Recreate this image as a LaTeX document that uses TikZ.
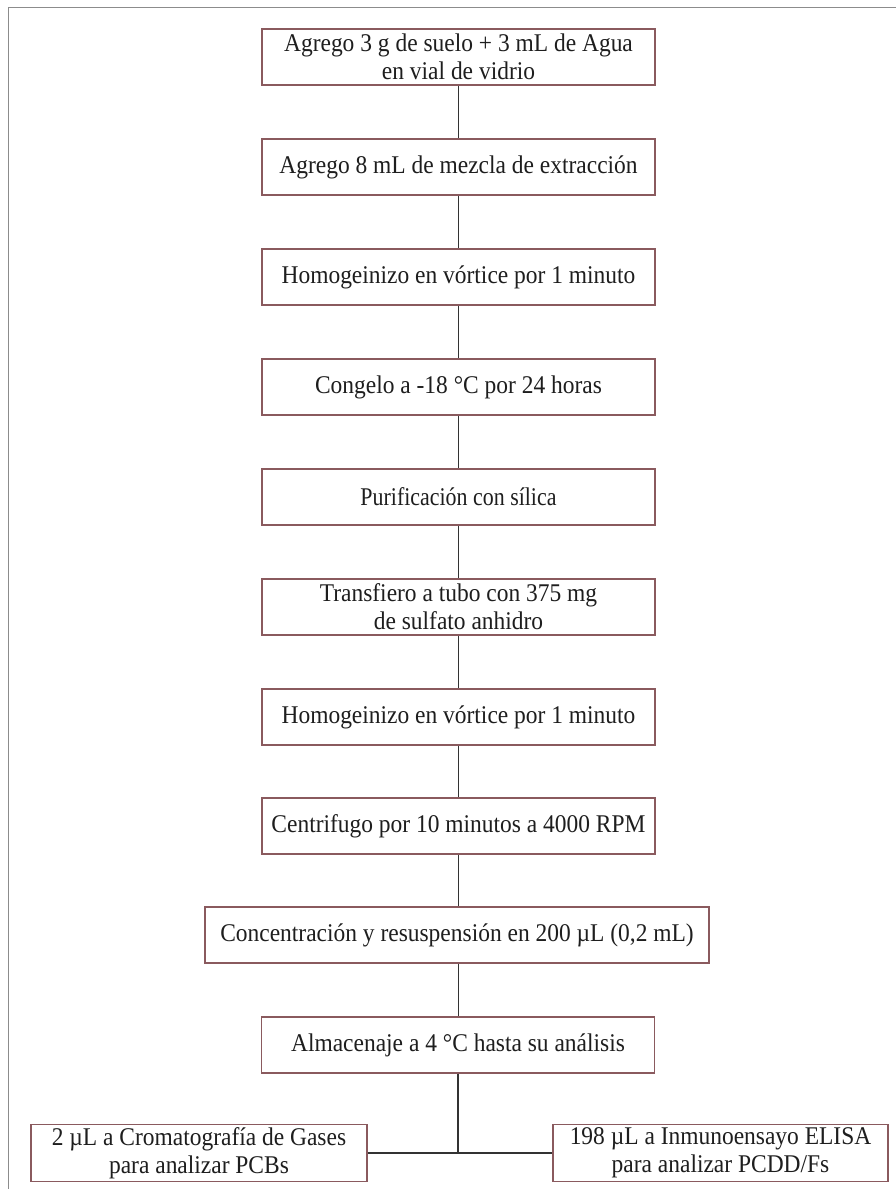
\documentclass[tikz,border=0pt]{standalone}
\usepackage{fontspec}
\setmainfont{Liberation Serif}[FakeStretch=0.92]
\definecolor{boxc}{HTML}{8A5A5E}
\definecolor{linec}{HTML}{333333}
\definecolor{framec}{HTML}{8C8C8C}
\definecolor{txtc}{HTML}{1E1E1E}
\begin{document}
\begin{tikzpicture}[x=1pt,y=-1pt,
  stepbox/.style={draw=boxc,line width=1.5pt,fill=white,rectangle,minimum height=56pt,
    inner sep=0pt,align=center,text=txtc,font=\fontsize{25.5}{28}\selectfont},
  conn/.style={draw=linec,line width=1.2pt}]
\useasboundingbox (0,0) rectangle (896,1189);
\draw[framec,line width=1.5pt] (896,7.5) -- (8.5,7.5) -- (8.5,1189);
\node[stepbox,minimum width=393pt] (b1) at (458.5,57) {Agrego 3 g de suelo + 3 mL de Agua\\en vial de vidrio};
\node[stepbox,minimum width=393pt] (b2) at (458.5,167) {Agrego 8 mL de mezcla de extracción};
\node[stepbox,minimum width=393pt] (b3) at (458.5,277) {Homogeinizo en vórtice por 1 minuto};
\node[stepbox,minimum width=393pt] (b4) at (458.5,387) {Congelo a -18 °C por 24 horas};
\node[stepbox,minimum width=393pt] (b5) at (458.5,497) {\resizebox{196pt}{\height}{Purificación con sílica}};
\node[stepbox,minimum width=393pt] (b6) at (458.5,607) {Transfiero a tubo con 375 mg\\de sulfato anhidro};
\node[stepbox,minimum width=393pt] (b7) at (458.5,717) {Homogeinizo en vórtice por 1 minuto};
\node[stepbox,minimum width=393pt] (b8) at (458.5,826) {Centrifugo por 10 minutos a 4000 RPM};
\node[stepbox,minimum width=504pt] (b9) at (457,935) {Concentración y resuspensión en 200 µL (0,2 mL)};
\node[stepbox,minimum width=393pt] (b10) at (458,1045) {Almacenaje a 4 °C hasta su análisis};
\node[stepbox,minimum width=336pt,minimum height=57pt] (bl) at (199,1153) {2 µL a Cromatografía de Gases\\para analizar PCBs};
\node[stepbox,minimum width=335pt,minimum height=57pt] (br) at (720.5,1153) {198 µL a Inmunoensayo ELISA\\para analizar PCDD/Fs};
\foreach \a/\b in {b1/b2,b2/b3,b3/b4,b4/b5,b5/b6,b6/b7,b7/b8,b8/b9,b9/b10}
  \draw[conn] (\a.south -| b1.south) -- (\b.north -| b1.south);
\coordinate (j) at (b10.south |- bl.east);
\draw[conn] (b10.south) -- (j);
\draw[conn] (bl.east) -- (br.west);
\end{tikzpicture}
\end{document}
